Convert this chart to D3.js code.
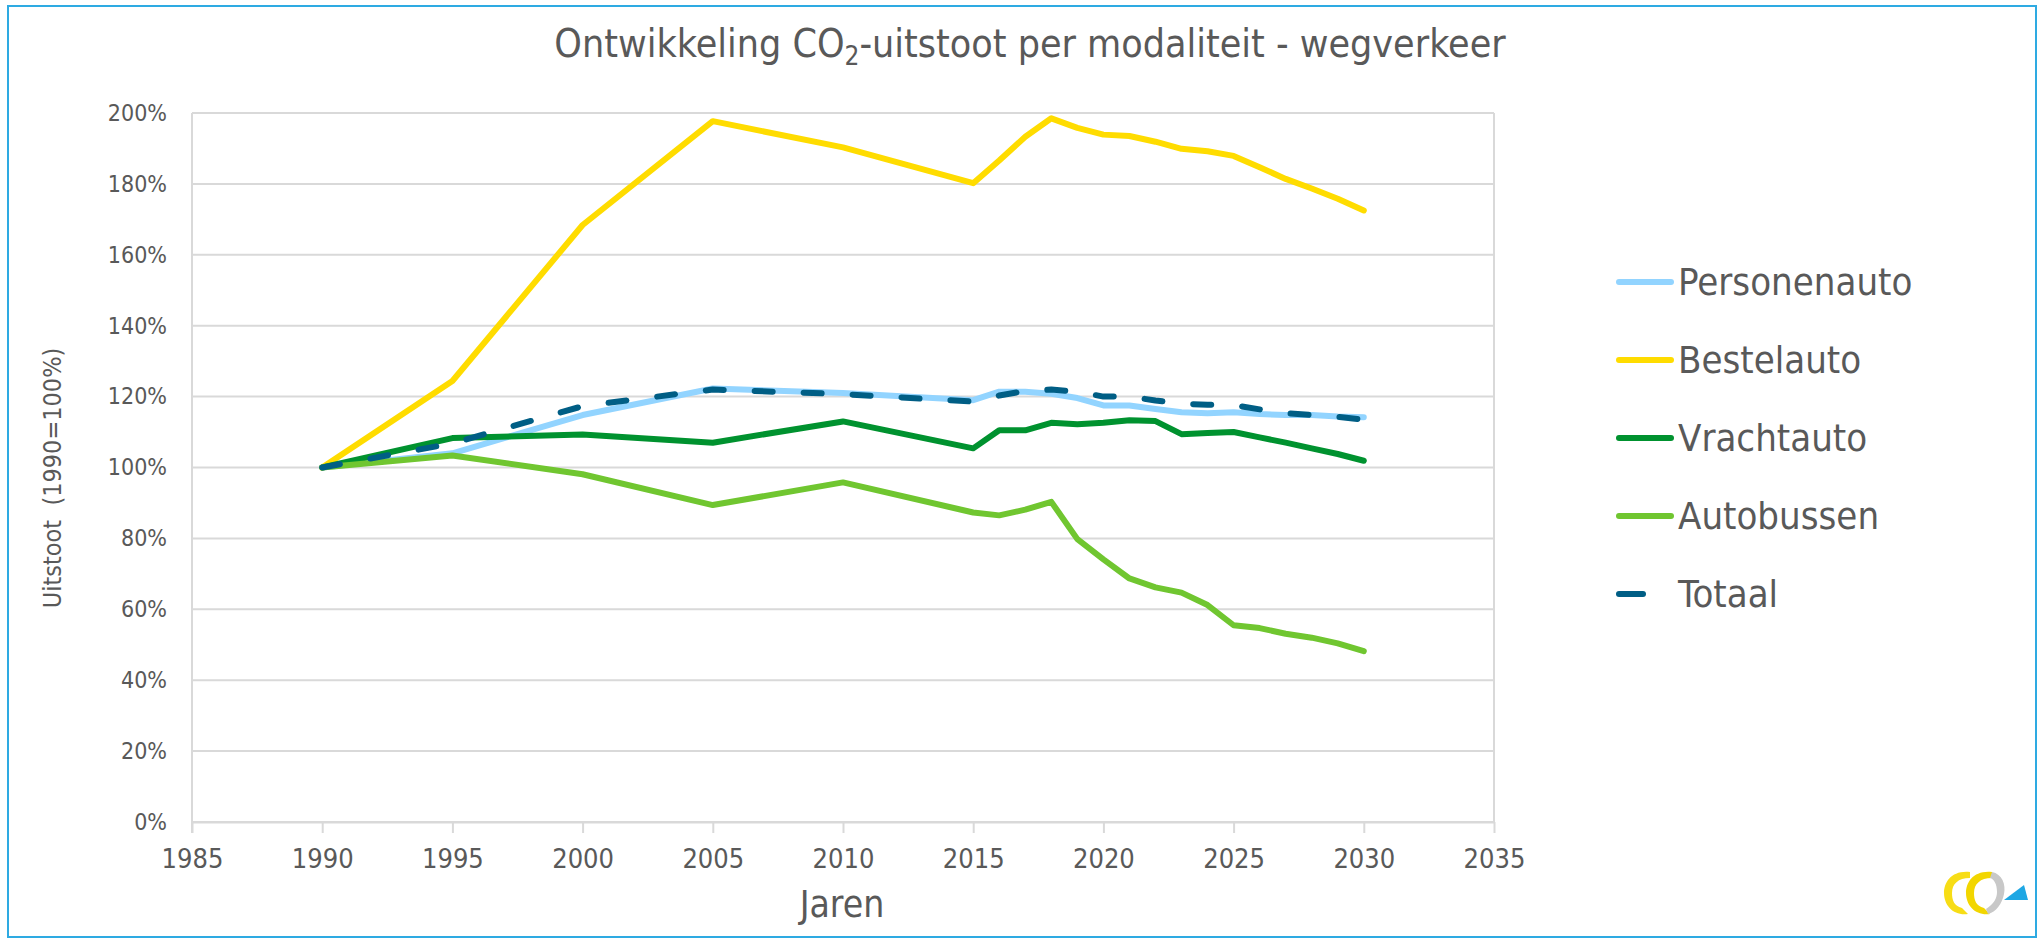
<!DOCTYPE html>
<html lang="nl">
    <head>
        <meta charset="UTF-8">
        <title>Ontwikkeling CO2-uitstoot per modaliteit - wegverkeer</title>
        <style>
            html, body {
                margin: 0;
                padding: 0;
                background: #fff;
            }
            svg {
                display: block;
            }
            .narrow {
                font-family: "Liberation Sans Narrow", "DejaVu Sans Condensed", sans-serif;
                fill: #595959;
            }
            .cond {
                font-family: "DejaVu Sans Condensed", "DejaVu Sans", sans-serif;
                fill: #595959;
            }
            .grid line {
                stroke: #d9d9d9;
                stroke-width: 2px;
            }
            .axis path,
            .axis line {
                fill: none;
                stroke: #d9d9d9;
                stroke-width: 2px;
            }
            .line {
                fill: none;
                stroke-width: 6px;
                stroke-linejoin: round;
                stroke-linecap: round;
            }
        </style>
    </head>

    <body>
        <script src="https://d3js.org/d3.v7.min.js"></script>
        <script>

            var years = [1990, 1995, 2000, 2005, 2010, 2015, 2016, 2017, 2018, 2019, 2020,
                         2021, 2022, 2023, 2024, 2025, 2026, 2027, 2028, 2029, 2030];

            var personenauto = [100, 104.0, 114.8, 122.3, 121.0, 119.0, 121.4, 121.4, 120.8, 119.6, 117.5,
                                117.5, 116.5, 115.6, 115.3, 115.6, 115.1, 114.8, 114.8, 114.4, 114.2];
            var bestelauto = [100, 124.4, 168.4, 197.7, 190.3, 180.2, 186.6, 193.3, 198.5, 195.8, 193.9,
                              193.5, 191.9, 189.9, 189.2, 187.9, 184.7, 181.4, 178.7, 175.8, 172.5];
            var vrachtauto = [100, 108.3, 109.3, 107.0, 113.0, 105.4, 110.5, 110.5, 112.6, 112.2, 112.6,
                              113.3, 113.1, 109.4, 109.7, 110.0, 108.5, 107.0, 105.4, 103.8, 101.9];
            var autobussen = [100, 103.4, 98.1, 89.4, 95.8, 87.3, 86.5, 88.1, 90.3, 79.8, 74.1,
                              68.7, 66.2, 64.7, 61.2, 55.5, 54.7, 53.1, 52.0, 50.4, 48.2];
            var totaal = [100, 106.8, 117.3, 122.0, 120.7, 118.6, 120.3, 121.6, 122.0, 121.4, 120.0,
                          120.0, 118.9, 118.0, 117.7, 117.6, 116.4, 115.3, 114.8, 114.3, 113.5];

            var xTicks = [1985, 1990, 1995, 2000, 2005, 2010, 2015, 2020, 2025, 2030, 2035];
            var yTicks = [0, 20, 40, 60, 80, 100, 120, 140, 160, 180, 200];

            var series = [
                { name: "Personenauto", values: personenauto, color: "#92d4ff", dash: null },
                { name: "Bestelauto", values: bestelauto, color: "#ffdc00", dash: null },
                { name: "Vrachtauto", values: vrachtauto, color: "#00922f", dash: null },
                { name: "Autobussen", values: autobussen, color: "#70c630", dash: null },
                { name: "Totaal", values: totaal, color: "#005e85", dash: "18,31" }
            ];

            var W = 2044, H = 940;
            // plot area edges (px)
            var pLeft = 192, pRight = 1494, pTop = 113, pBottom = 822;

            var x = d3.scaleLinear().domain([1985, 2035]).range([pLeft, pRight]);
            var y = d3.scaleLinear().domain([0, 200]).range([pBottom, pTop]);

            var svg = d3.select("body").append("svg")
                .attr("width", W)
                .attr("height", H);

            // outer frame
            svg.append("rect")
                .attr("x", 8).attr("y", 6)
                .attr("width", W - 16).attr("height", H - 9)
                .attr("fill", "none")
                .attr("stroke", "#2eaae2")
                .attr("stroke-width", 2);

            // title
            var title = svg.append("text")
                .attr("class", "narrow")
                .attr("x", 1030)
                .attr("y", 57)
                .attr("text-anchor", "middle")
                .style("font-size", "39px");
            title.append("tspan").text("Ontwikkeling CO");
            title.append("tspan").attr("dy", 8).style("font-size", "26px").text("2");
            title.append("tspan").attr("dy", -8).text("-uitstoot per modaliteit - wegverkeer");

            // horizontal gridlines
            svg.append("g")
                .attr("class", "grid")
                .selectAll("line")
                .data(yTicks)
                .enter().append("line")
                .attr("x1", pLeft).attr("x2", pRight)
                .attr("y1", function(d) { return y(d); })
                .attr("y2", function(d) { return y(d); });

            // right edge of plot area
            svg.append("line")
                .attr("x1", pRight).attr("x2", pRight)
                .attr("y1", pTop).attr("y2", pBottom)
                .attr("stroke", "#d9d9d9")
                .attr("stroke-width", 2);

            var xAxis = svg.append("g")
                .attr("class", "axis")
                .attr("transform", "translate(0," + pBottom + ")")
                .call(d3.axisBottom(x).tickValues(xTicks).tickFormat(d3.format("d"))
                    .tickSizeInner(11).tickSizeOuter(0).tickPadding(16));
            xAxis.selectAll("text")
                .attr("class", "narrow")
                .attr("fill", null)
                .style("font-size", "27px");

            var yAxis = svg.append("g")
                .attr("class", "axis")
                .attr("transform", "translate(" + pLeft + ",0)")
                .call(d3.axisLeft(y).tickValues(yTicks).tickFormat(function(d) { return d + "%"; })
                    .tickSize(0).tickPadding(25));
            yAxis.selectAll("text")
                .attr("class", "narrow")
                .attr("fill", null)
                .style("font-size", "23px");
            yAxis.select(".domain").attr("d", "M0," + (pBottom + 11) + "V" + pTop);

            // axis titles
            svg.append("text")
                .attr("class", "cond")
                .attr("x", 842)
                .attr("y", 917)
                .attr("text-anchor", "middle")
                .style("font-size", "37px")
                .text("Jaren");

            svg.append("text")
                .attr("class", "cond")
                .attr("transform", "translate(61,478) rotate(-90)")
                .attr("text-anchor", "middle")
                .style("font-size", "25px")
                .style("white-space", "pre")
                .text("Uitstoot  (1990=100%)");

            var line = d3.line()
                .x(function(d, i) { return x(years[i]); })
                .y(function(d) { return y(d); });

            svg.selectAll(".line")
                .data(series)
                .enter().append("path")
                .attr("class", "line")
                .attr("stroke", function(d) { return d.color; })
                .attr("stroke-dasharray", function(d) { return d.dash; })
                .attr("d", function(d) { return line(d.values); });

            // legend
            var legend = svg.append("g")
                .attr("transform", "translate(1619,282)");
            var item = legend.selectAll("g")
                .data(series)
                .enter().append("g")
                .attr("transform", function(d, i) { return "translate(0," + (i * 78) + ")"; });
            item.append("line")
                .attr("x1", 0)
                .attr("x2", function(d) { return d.dash ? 24 : 52; })
                .attr("stroke", function(d) { return d.color; })
                .attr("stroke-width", 6)
                .attr("stroke-linecap", "round");
            item.append("text")
                .attr("class", "cond")
                .attr("x", 59)
                .attr("y", 13)
                .style("font-size", "38px")
                .text(function(d) { return d.name; });

            // logo
            var logo = svg.append("g").attr("transform", "translate(1940,868)");
            logo.append("path")
                .attr("d", "M30,4 C12,2 4,14 4,25 C4,38 14,48 28,46 L22,40 C14,38 12,32 12,25 C12,16 18,10 30,10 Z")
                .attr("fill", "#f7dd16");
            logo.append("path")
                .attr("d", "M52,4 C34,2 26,14 26,25 C26,38 36,48 50,46 L44,40 C36,38 34,32 34,25 C34,16 40,10 52,10 Z")
                .attr("fill", "#f2d600");
            logo.append("path")
                .attr("d", "M52,4 C62,6 66,16 64,26 C62,36 56,44 48,46 L46,41 C54,36 57,30 57,24 C57,16 54,11 50,10 Z")
                .attr("fill", "#c8c8c8");
            logo.append("path")
                .attr("d", "M64,32 L88,32 L84,17 Z")
                .attr("fill", "#1ea7e4");

        </script>
    </body>

</html>
